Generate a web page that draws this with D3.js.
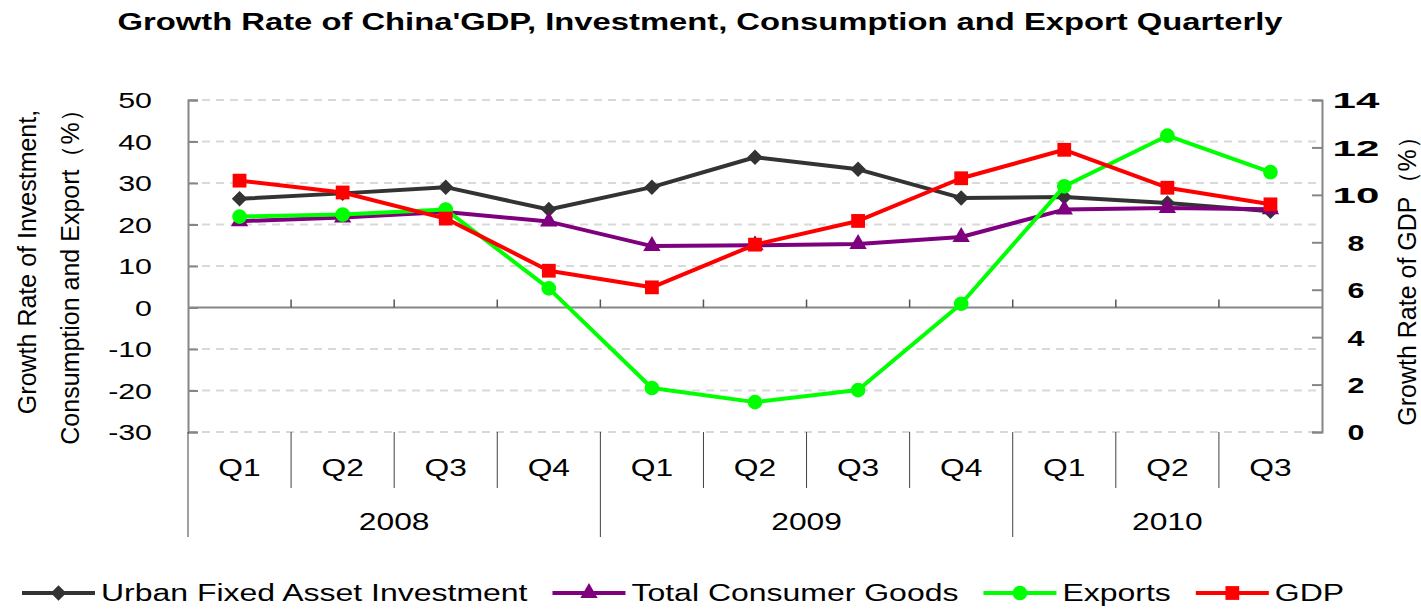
<!DOCTYPE html>
<html>
<head>
<meta charset="utf-8">
<script src="https://cdn.jsdelivr.net/npm/d3@7/dist/d3.min.js"></script>
<style>
body { margin: 0; background: #fff; }
svg text { font-family: "Liberation Sans", Arial, sans-serif; fill: #000; }
</style>
</head>
<body>
<svg id="chart" width="1421" height="610"></svg>
<script>
// values
var quarters = ["Q1", "Q2", "Q3", "Q4", "Q1", "Q2", "Q3", "Q4", "Q1", "Q2", "Q3"];
var years = ["2008", "2009", "2010"];
var yearQuarters = [4, 4, 3];
var investment = [26.2, 27.5, 29.0, 23.6, 29.0, 36.2, 33.3, 26.4, 26.6, 25.2, 23.2];
var consumer   = [20.8, 21.7, 23.0, 20.7, 14.8, 15.0, 15.3, 17.0, 23.6, 24.0, 23.7];
var exports_   = [21.9, 22.4, 23.6, 4.6, -19.4, -22.8, -19.9, 0.9, 29.2, 41.4, 32.6];
var gdp        = [10.6, 10.1, 9.0, 6.8, 6.1, 7.9, 8.9, 10.7, 11.9, 10.3, 9.6];
var leftTicks  = [50, 40, 30, 20, 10, 0, -10, -20, -30];
var rightTicks = [14, 12, 10, 8, 6, 4, 2, 0];
var seriesNames = ["Urban Fixed Asset Investment", "Total Consumer Goods", "Exports", "GDP"];

var title = "Growth Rate of China'GDP, Investment, Consumption and Export Quarterly";
var leftTitle = ["Growth Rate of Investment,", "Consumption and Export\uFF08%\uFF09"];
var rightTitle = "Growth Rate of GDP\uFF08%\uFF09";

// the original picture is stretched sideways, so horizontal text gets widened
var K = 1.38;
function stretch(sel, k, extra) {
    sel.each(function() {
        var len = this.getComputedTextLength();
        if (len > 0) {
            d3.select(this)
                .attr("textLength", len * k + (extra || 0) * (this.textContent.length - 1))
                .attr("lengthAdjust", "spacingAndGlyphs");
        }
    });
}

var svg = d3.select("#chart");
var margin = {top: 100, right: 99, bottom: 178, left: 188};
var width = 1421 - margin.left - margin.right;
var height = 610 - margin.top - margin.bottom;
var group = svg.append("g").attr("transform", "translate(" + margin.left + "," + margin.top + ")");

var xscale = d3.scaleBand().domain(d3.range(quarters.length)).range([0, width]);
var yLeft = d3.scaleLinear().domain([-30, 50]).range([height, 0]);
var yRight = d3.scaleLinear().domain([0, 14]).range([height, 0]);
var cx = function(i) { return xscale(i) + xscale.bandwidth() / 2; };

var axisColor = "#868686";

// gridlines
group.append("g")
    .selectAll("line")
    .data(leftTicks.filter(function(d) { return d != 0; }))
    .enter().append("line")
    .attr("x1", 0).attr("x2", width)
    .attr("y1", function(d) { return yLeft(d); })
    .attr("y2", function(d) { return yLeft(d); })
    .attr("stroke", "#d9d9d9")
    .attr("stroke-width", 2)
    .attr("stroke-dasharray", "8,6");

// left axis (plain hyphen for negatives, like the original)
var yAxisL = group.append("g")
    .attr("class", "y_axis")
    .call(d3.axisLeft(yLeft).tickValues(leftTicks).tickFormat(function(d) { return String(d); })
        .tickSize(-10).tickPadding(36));
yAxisL.selectAll("text").attr("font-size", 22).attr("dy", "0.36em");
stretch(yAxisL.selectAll("text"), K);

// right axis
var yAxisR = group.append("g")
    .attr("class", "y_axis_r")
    .attr("transform", "translate(" + width + ",0)")
    .call(d3.axisRight(yRight).tickValues(rightTicks).tickFormat(function(d) { return String(d); })
        .tickSize(-10).tickPadding(34));
yAxisR.selectAll("text")
    .attr("font-size", 22)
    .attr("font-weight", "bold")
    .attr("text-anchor", "middle")
    .attr("dy", "0.36em");
stretch(yAxisR.selectAll("text"), K, 13);

[yAxisL, yAxisR].forEach(function(a) {
    a.attr("font-family", null);
    a.select(".domain").attr("stroke", axisColor).attr("stroke-width", 2);
    a.selectAll(".tick line").attr("stroke", axisColor).attr("stroke-width", 2);
});

// left edge keeps going down through the category area
group.append("line")
    .attr("x1", 0).attr("x2", 0)
    .attr("y1", height).attr("y2", height + 105)
    .attr("stroke", "#404040").attr("stroke-width", 1);

// zero line with small category ticks
var y0 = yLeft(0);
group.append("line")
    .attr("x1", 0).attr("x2", width)
    .attr("y1", y0).attr("y2", y0)
    .attr("stroke", axisColor).attr("stroke-width", 2);
group.append("g")
    .selectAll("line")
    .data(d3.range(1, quarters.length))
    .enter().append("line")
    .attr("x1", function(i) { return xscale(i); })
    .attr("x2", function(i) { return xscale(i); })
    .attr("y1", y0 - 8).attr("y2", y0)
    .attr("stroke", "#555").attr("stroke-width", 1.5);

// category area: quarters and years
var yearStarts = [];
for (var i = 0, s = 0; i < years.length; ++i) { yearStarts.push(s); s += yearQuarters[i]; }

group.append("g")
    .selectAll("line")
    .data(d3.range(1, quarters.length).filter(function(i) { return yearStarts.indexOf(i) < 0; }))
    .enter().append("line")
    .attr("x1", function(i) { return xscale(i); })
    .attr("x2", function(i) { return xscale(i); })
    .attr("y1", height).attr("y2", height + 56)
    .attr("stroke", "#404040").attr("stroke-width", 1);

group.append("g")
    .selectAll("line")
    .data(yearStarts.slice(1))
    .enter().append("line")
    .attr("x1", function(i) { return xscale(i); })
    .attr("x2", function(i) { return xscale(i); })
    .attr("y1", height).attr("y2", height + 105)
    .attr("stroke", "#404040").attr("stroke-width", 1);

var qLabels = group.append("g")
    .selectAll("text")
    .data(quarters)
    .enter().append("text")
    .attr("x", function(d, i) { return cx(i); })
    .attr("y", height + 36)
    .attr("dy", "0.36em")
    .attr("text-anchor", "middle")
    .attr("font-size", 23)
    .text(function(d) { return d; });
stretch(qLabels, K);

var yLabels = group.append("g")
    .selectAll("text")
    .data(years)
    .enter().append("text")
    .attr("x", function(d, i) {
        var a = xscale(yearStarts[i]);
        var b = xscale(yearStarts[i] + yearQuarters[i] - 1) + xscale.bandwidth();
        return (a + b) / 2;
    })
    .attr("y", height + 90)
    .attr("dy", "0.36em")
    .attr("text-anchor", "middle")
    .attr("font-size", 23)
    .text(function(d) { return d; });
stretch(yLabels, K);

// series
var series = [
    {name: seriesNames[0], values: investment, scale: yLeft, color: "#333333", shape: "diamond"},
    {name: seriesNames[1], values: consumer, scale: yLeft, color: "#7f007f", shape: "triangle"},
    {name: seriesNames[2], values: exports_, scale: yLeft, color: "#00ff00", shape: "circle"},
    {name: seriesNames[3], values: gdp, scale: yRight, color: "#ff0000", shape: "square"}
];

function markerPath(shape) {
    if (shape == "diamond") return d3.symbol().type(d3.symbolSquare).size(120)();
    if (shape == "triangle") return d3.symbol().type(d3.symbolTriangle).size(130)();
    if (shape == "circle") return d3.symbol().type(d3.symbolCircle).size(170)();
    return d3.symbol().type(d3.symbolSquare).size(190)();
}
function markerTransform(shape, x, y) {
    return "translate(" + x + "," + y + ")" + (shape == "diamond" ? " rotate(45)" : "");
}

series.forEach(function(s) {
    var line = d3.line()
        .x(function(d, i) { return cx(i); })
        .y(function(d) { return s.scale(d); });
    var g = group.append("g");
    g.append("path")
        .datum(s.values)
        .attr("d", line)
        .attr("fill", "none")
        .attr("stroke", s.color)
        .attr("stroke-width", 4)
        .attr("stroke-linejoin", "round");
    g.selectAll(".marker")
        .data(s.values)
        .enter().append("path")
        .attr("class", "marker")
        .attr("d", markerPath(s.shape))
        .attr("transform", function(d, i) { return markerTransform(s.shape, cx(i), s.scale(d)); })
        .attr("fill", s.color);
});

// titles
var t = svg.append("text")
    .attr("x", 700).attr("y", 22)
    .attr("dy", "0.36em")
    .attr("text-anchor", "middle")
    .attr("font-size", 23)
    .attr("font-weight", "bold")
    .text(title);
stretch(t, 1165 / t.node().getComputedTextLength());

svg.append("g")
    .selectAll("text")
    .data(leftTitle)
    .enter().append("text")
    .attr("transform", function(d, i) {
        return "translate(" + (i == 0 ? 27 : 70) + "," + (i == 0 ? 262 : 271) + ") rotate(-90)";
    })
    .attr("dy", "0.36em")
    .attr("text-anchor", "middle")
    .attr("font-size", 25)
    .text(function(d) { return d; });

svg.append("text")
    .attr("transform", "translate(1407,275) rotate(-90)")
    .attr("dy", "0.36em")
    .attr("text-anchor", "middle")
    .attr("font-size", 25)
    .text(rightTitle);

// legend
var legend = svg.append("g").attr("transform", "translate(0,593)");
var lx = 22;
series.forEach(function(s) {
    var item = legend.append("g");
    item.append("line")
        .attr("x1", lx).attr("x2", lx + 73)
        .attr("stroke", s.color).attr("stroke-width", 4);
    item.append("path")
        .attr("d", markerPath(s.shape))
        .attr("transform", markerTransform(s.shape, lx + 36.5, 0))
        .attr("fill", s.color);
    var txt = item.append("text")
        .attr("x", lx + 79)
        .attr("dy", "0.36em")
        .attr("font-size", 23)
        .text(s.name);
    var w = txt.node().getComputedTextLength() * 1.39;
    stretch(txt, 1.39);
    lx += 79 + w + 25;
});
</script>
</body>
</html>
